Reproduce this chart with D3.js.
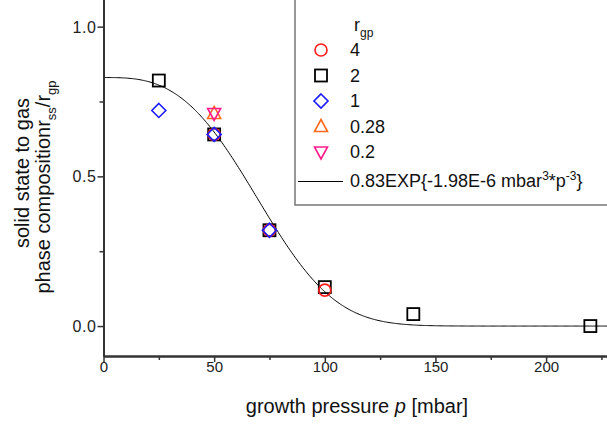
<!DOCTYPE html>
<html>
<head>
<meta charset="utf-8">
<script src="https://cdn.jsdelivr.net/npm/d3@7"></script>
<style>
  html, body { margin: 0; padding: 0; background: #fff; }
  svg { display: block; font-family: "Liberation Sans", Arial, sans-serif; }
</style>
</head>
<body>
<svg id="chart" width="607" height="425"></svg>
<script>
// Measured ratio of solid-state to gas-phase composition vs. growth pressure
const pressure4 = [50, 75, 100];
const ratio4 = [0.64, 0.32, 0.12];
const pressure2 = [25, 50, 75, 100, 140, 220];
const ratio2 = [0.82, 0.64, 0.32, 0.13, 0.04, 0.0];
const pressure1 = [25, 50, 75];
const ratio1 = [0.72, 0.64, 0.32];
const pressure028 = [50];
const ratio028 = [0.71];
const pressure02 = [50];
const ratio02 = [0.71];

// Fit: r = A * exp(-k * p^3)
const fitA = 0.83;
const fitK = 1.98e-6;

const xMajorTicks = [0, 50, 100, 150, 200];
const xMinorTicks = [25, 75, 125, 175, 225];
const yMajorTicks = [0.0, 0.5, 1.0];
const yMinorTicks = [0.25, 0.75];
const legendLabels = ["4", "2", "1", "0.28", "0.2"];

const svg = d3.select("#chart");
const x = d3.scaleLinear().domain([0, 230]).range([103.5, 103.5 + 230 * 2.213]);
const y = d3.scaleLinear().domain([-0.1, 1.1]).range([356, -3.3]);

const axisColor = "#333";

// fitted curve
const fitX = d3.range(0, 230.5, 0.5);
svg.append("path")
  .datum(fitX)
  .attr("fill", "none")
  .attr("stroke", "#000")
  .attr("stroke-width", 1)
  .attr("d", d3.line().x(d => x(d)).y(d => y(fitA * Math.exp(-fitK * d * d * d))));

// Axes
const xAxis = svg.append("g").attr("transform", `translate(0,${y(-0.1)})`);
xAxis.call(d3.axisBottom(x).tickValues(xMajorTicks).tickFormat(d3.format("d")).tickSize(6).tickSizeOuter(0));
const xMinor = svg.append("g").attr("transform", `translate(0,${y(-0.1)})`);
xMinor.call(d3.axisBottom(x).tickValues(xMinorTicks).tickFormat("").tickSize(4).tickSizeOuter(0));

const yAxis = svg.append("g").attr("transform", `translate(${x(0)},0)`);
yAxis.call(d3.axisLeft(y).tickValues(yMajorTicks).tickFormat(d3.format(".1f")).tickSize(6).tickSizeOuter(0));
const yMinor = svg.append("g").attr("transform", `translate(${x(0)},0)`);
yMinor.call(d3.axisLeft(y).tickValues(yMinorTicks).tickFormat("").tickSize(4).tickSizeOuter(0));

[xAxis, xMinor, yAxis, yMinor].forEach(g => {
  g.select(".domain").attr("stroke", axisColor).attr("stroke-width", 2);
  g.selectAll(".tick line").attr("stroke", axisColor).attr("stroke-width", 1.5);
  g.selectAll(".tick text").attr("fill", "#222").style("font-size", "15px")
    .style("font-family", "'Liberation Sans', Arial, sans-serif");
});
xAxis.selectAll(".tick text").attr("y", 5).attr("dy", "0.71em");
yAxis.selectAll(".tick text").attr("x", -7).attr("dy", "0.35em")
  .style("font-size", "16px").style("letter-spacing", "0.6px");

// Marker drawing helpers
const sym = {
  circle: (g, cx, cy, color) => g.append("circle").attr("cx", cx).attr("cy", cy).attr("r", 6)
    .attr("fill", "none").attr("stroke", color).attr("stroke-width", 1.6),
  square: (g, cx, cy, color) => g.append("rect").attr("x", cx - 6).attr("y", cy - 6)
    .attr("width", 12).attr("height", 12)
    .attr("fill", "none").attr("stroke", color).attr("stroke-width", 1.8),
  diamond: (g, cx, cy, color) => g.append("path")
    .attr("d", `M${cx},${cy - 7}L${cx + 7},${cy}L${cx},${cy + 7}L${cx - 7},${cy}Z`)
    .attr("fill", "none").attr("stroke", color).attr("stroke-width", 1.6),
  triUp: (g, cx, cy, color) => g.append("path")
    .attr("d", `M${cx},${cy - 7}L${cx + 6.5},${cy + 5}L${cx - 6.5},${cy + 5}Z`)
    .attr("fill", "none").attr("stroke", color).attr("stroke-width", 1.6),
  triDown: (g, cx, cy, color) => g.append("path")
    .attr("d", `M${cx},${cy + 7}L${cx + 6.5},${cy - 5}L${cx - 6.5},${cy - 5}Z`)
    .attr("fill", "none").attr("stroke", color).attr("stroke-width", 1.6)
};

const series = [
  { px: pressure2, vy: ratio2, shape: "square", color: "#000" },
  { px: pressure4, vy: ratio4, shape: "circle", color: "#ff1a1a" },
  { px: pressure1, vy: ratio1, shape: "diamond", color: "#1a1aff" },
  { px: pressure028, vy: ratio028, shape: "triUp", color: "#ff6a1a" },
  { px: pressure02, vy: ratio02, shape: "triDown", color: "#ff1a8c" }
];
const marks = svg.append("g");
series.forEach(s => s.px.forEach((p, i) => sym[s.shape](marks, x(p), y(s.vy[i]), s.color)));

// Legend
const lg = svg.append("g");
lg.append("rect").attr("x", 295).attr("y", -10).attr("width", 330).attr("height", 215)
  .attr("fill", "#fff").attr("stroke", "#777").attr("stroke-width", 1.5);

const legendFont = "18px";
const hdr = lg.append("text").attr("x", 354).attr("y", 31).style("font-size", legendFont).attr("fill", "#111");
hdr.append("tspan").text("r");
hdr.append("tspan").attr("dy", 6).style("font-size", "12px").text("gp");

const legendShapes = ["circle", "square", "diamond", "triUp", "triDown"];
const legendColors = ["#ff1a1a", "#000", "#1a1aff", "#ff6a1a", "#ff1a8c"];
legendLabels.forEach((lab, i) => {
  const cy = 50 + i * 25.5;
  sym[legendShapes[i]](lg, 321, cy, legendColors[i]);
  lg.append("text").attr("x", 350).attr("y", cy + 6).style("font-size", legendFont).attr("fill", "#111").text(lab);
});

lg.append("line").attr("x1", 298).attr("x2", 343).attr("y1", 181.5).attr("y2", 181.5)
  .attr("stroke", "#000").attr("stroke-width", 1);
const fitLabel = lg.append("text").attr("x", 350).attr("y", 187).style("font-size", legendFont).attr("fill", "#111");
fitLabel.append("tspan").text("0.83EXP{-1.98E-6 mbar");
fitLabel.append("tspan").attr("dy", -7).style("font-size", "12px").text("3");
fitLabel.append("tspan").attr("dy", 7).text("*p");
fitLabel.append("tspan").attr("dy", -7).style("font-size", "12px").text("-3");
fitLabel.append("tspan").attr("dy", 7).text("}");

// Axis titles
const xt = svg.append("text").attr("x", 357).attr("y", 412.5).attr("text-anchor", "middle")
  .style("font-size", "20px").attr("fill", "#111");
xt.append("tspan").text("growth pressure ");
xt.append("tspan").style("font-style", "italic").text("p");
xt.append("tspan").text(" [mbar]");

const yt1 = svg.append("text").attr("transform", "translate(28.5,173) rotate(-90)")
  .attr("text-anchor", "middle").style("font-size", "20px").attr("fill", "#111")
  .text("solid state to gas");
const yt2 = svg.append("text").attr("transform", "translate(49.5,187) rotate(-90)")
  .attr("text-anchor", "middle").style("font-size", "20px").attr("fill", "#111");
yt2.append("tspan").text("phase compositionr");
yt2.append("tspan").attr("dy", 6).style("font-size", "13px").text("ss");
yt2.append("tspan").attr("dy", -6).text("/r");
yt2.append("tspan").attr("dy", 6).style("font-size", "13px").text("gp");
</script>
</body>
</html>
